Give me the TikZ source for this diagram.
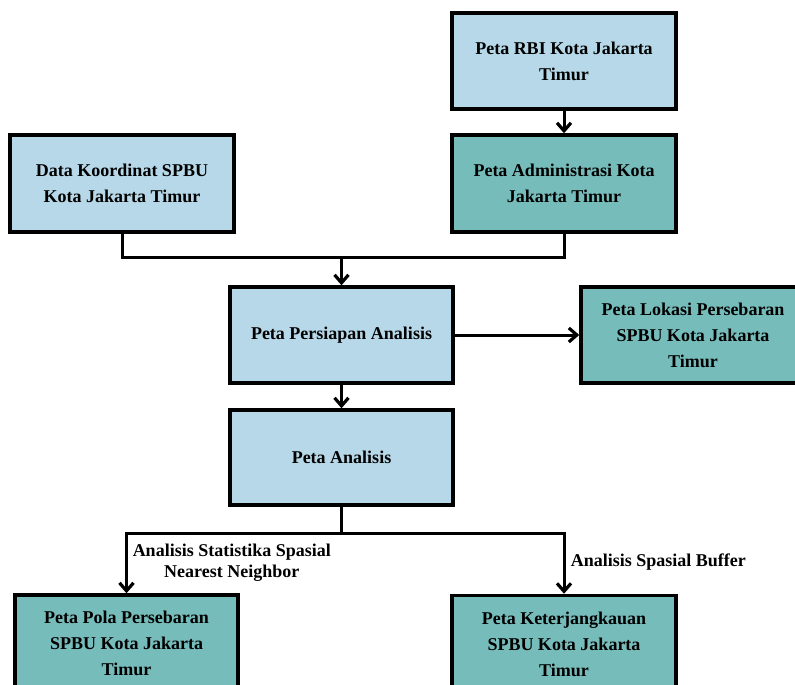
\documentclass[tikz,border=0pt]{standalone}
\usepackage{fontspec}
\setmainfont{Liberation Serif}
\usetikzlibrary{arrows.meta}
\definecolor{lightblue}{RGB}{182,216,232}
\definecolor{tealgreen}{RGB}{118,188,186}

\begin{document}
\begin{tikzpicture}[x = 1pt, y = -1pt,
	every node/.style = {draw, line width = 3.5pt, minimum width = 224pt, minimum height = 97pt, inner sep = 0pt, align = center, font = \fontsize{18}{26}\selectfont\bfseries},
	light/.style = {fill = lightblue},
	dark/.style = {fill = tealgreen},
	note/.style = {draw = none, minimum width = 0pt, minimum height = 0pt, font = \fontsize{18}{21}\selectfont\bfseries},
	flow/.style = {line width = 3pt, -{Straight Barb[length = 8pt, width = 14pt, line width = 3.2pt]}}
	]
	\useasboundingbox (0,0) rectangle (795,685);
	\clip (0,0) rectangle (795,685);
	% top row
	\node[light, minimum height = 96pt] (rbi) at (564,61) {Peta RBI Kota Jakarta\\Timur};
	\node[dark] (admin) at (564,183.5) {Peta Administrasi Kota\\Jakarta Timur};
	\node[light] (data) at (122,183.5) {Data Koordinat SPBU\\Kota Jakarta Timur};
	% middle
	\node[light, minimum width = 223pt, minimum height = 96pt] (persiapan) at (341.5,335) {Peta Persiapan Analisis};
	\node[dark, minimum height = 96pt] (lokasi) at (693,335) {Peta Lokasi Persebaran\\SPBU Kota Jakarta\\Timur};
	\node[light, minimum width = 223pt, minimum height = 95pt] (analisis) at (341.5,457.5) {Peta Analisis};
	% bottom row
	\node[dark, minimum width = 223pt] (pola) at (126.5,643.5) {Peta Pola Persebaran\\SPBU Kota Jakarta\\Timur};
	\node[dark] (jangkau) at (564,644) {Peta Keterjangkauan\\SPBU Kota Jakarta\\Timur};
	\coordinate (join) at (341.5,257);
	\coordinate (split) at (341.5,533);
	% connectors
	\draw[flow] (rbi) -- (admin);
	\draw[line width = 3pt] (data.south) |- (join) -| (admin.south);
	\draw[flow] (join) -- (persiapan);
	\draw[flow] (persiapan) -- (lokasi);
	\draw[flow] (persiapan) -- (analisis);
	\draw[line width = 3pt] (analisis.south) -- (split);
	\draw[flow] (split) -| (pola.north);
	\draw[flow] (split) -| (jangkau.north);
	% labels
	\node[note, anchor = west, align = center] (lblnn) at (131,562.5) {Analisis Statistika Spasial\\Nearest Neighbor};
	\node[note, anchor = west] (lblbuf) at (569,562) {Analisis Spasial Buffer};
\end{tikzpicture}
\end{document}
